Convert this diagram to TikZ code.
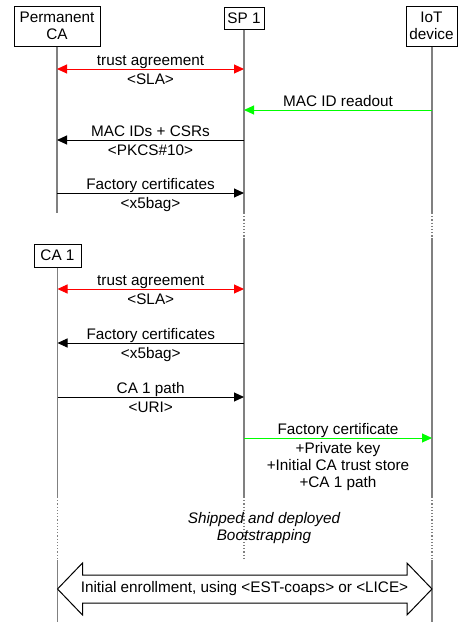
\documentclass[tikz,border=0pt]{standalone}
\usepackage{fontspec}
\setmainfont{Liberation Sans}
\usetikzlibrary{arrows.meta,calc}

\begin{document}
\begin{tikzpicture}[x=1pt,y=-1pt,font=\fontsize{15.3}{17}\selectfont,
 >={Triangle[length=10pt,width=9pt]}]
 \tikzstyle{actor}=[draw, line width=1pt, align=center, inner sep=0pt, fill=white]
 \tikzstyle{life}=[draw=gray, line width=1.5pt]
 \tikzstyle{gap}=[draw=gray, line width=1.2pt, dotted]
 \tikzstyle{msg}=[line width=1pt]
 \tikzstyle{lbl}=[anchor=base, yshift=4pt, inner sep=0pt, text=black]
 \tikzstyle{sub}=[anchor=base, yshift=-15pt, inner sep=0pt, text=black]
 \useasboundingbox (0,0) rectangle (458,622);

 \node[actor, minimum width=86, minimum height=40] (pca) at (57,26) {Permanent\\CA};
 \node[actor, minimum width=40, minimum height=22] (sp1) at (244,18) {SP 1};
 \node[actor, minimum width=51, minimum height=40] (iot) at (431.5,26) {IoT\\device};
 \node[actor, minimum width=47, minimum height=23] (ca1) at (57.5,255.5) {CA 1};

 \coordinate (cut1) at (0,213);
 \coordinate (cut2) at (0,238);
 \coordinate (cut3) at (0,497);
 \coordinate (cut4) at (0,560);
 \coordinate (foot) at (0,622);

 \draw[life] (pca.south) -- (pca.south |- cut1);
 \draw[life] (sp1.south) -- (sp1 |- cut1);
 \draw[gap] (sp1 |- cut1) -- (sp1 |- cut2);
 \draw[life] (sp1 |- cut2) -- (sp1 |- cut3);
 \draw[gap] (sp1 |- cut3) -- (sp1 |- cut4);
 \draw[life] ($(iot.south)+(0.5,0)$) -- ($(iot |- cut1)+(0.5,0)$);
 \draw[gap] ($(iot |- cut1)+(0.5,0)$) -- ($(iot |- cut2)+(0.5,0)$);
 \draw[life] ($(iot |- cut2)+(0.5,0)$) -- ($(iot |- cut3)+(0.5,0)$);
 \draw[gap] ($(iot |- cut3)+(0.5,0)$) -- ($(iot |- cut4)+(0.5,0)$);
 \draw[life] ($(iot |- cut4)+(0.5,0)$) -- ($(iot |- foot)+(0.5,0)$);
 \draw[life] (ca1.south) -- (ca1 |- cut3);
 \draw[gap] (ca1 |- cut3) -- (ca1 |- cut4);
 \draw[life] (ca1 |- cut4) -- (ca1 |- foot);

 \coordinate (m1) at (0,69);
 \coordinate (m2) at (0,110);
 \coordinate (m3) at (0,140);
 \coordinate (m4) at (0,193);
 \coordinate (m5) at (0,289);
 \coordinate (m6) at (0,343);
 \coordinate (m7) at (0,397);
 \coordinate (m8) at (0,438);
 \coordinate (ea) at (0,589);

 \draw[msg, red, <->] (pca |- m1) -- node[lbl]{trust agreement} node[sub]{<SLA>} (sp1 |- m1);
 \draw[msg, green, ->] ($(iot |- m2)+(0.5,0)$) -- node[lbl]{MAC ID readout} (sp1 |- m2);
 \draw[msg, ->] (sp1 |- m3) -- node[lbl]{MAC IDs + CSRs} node[sub]{<PKCS\#10>} (pca |- m3);
 \draw[msg, ->] (pca |- m4) -- node[lbl]{Factory certificates} node[sub]{<x5bag>} (sp1 |- m4);

 \draw[msg, red, <->] (ca1 |- m5) -- node[lbl]{trust agreement} node[sub]{<SLA>} (sp1 |- m5);
 \draw[msg, ->] (sp1 |- m6) -- node[lbl]{Factory certificates} node[sub]{<x5bag>} (ca1 |- m6);
 \draw[msg, ->] (ca1 |- m7) -- node[lbl]{CA 1 path} node[sub]{<URI>} (sp1 |- m7);
 \draw[msg, green, ->] (sp1 |- m8) -- node[lbl]{Factory certificate}
   node[anchor=north, yshift=-4pt, align=center, inner sep=0pt, text=black]{+Private key\\+Initial CA trust store\\+CA 1 path} ($(iot |- m8)+(0.5,0)$);

 \node[font=\fontsize{15.3}{17}\selectfont\itshape, align=center, inner sep=0pt] (ship) at (264,528) {Shipped and deployed\\Bootstrapping};

 \draw[line width=1pt, fill=white] (ca1 |- ea) -- ++(25,-26) -- ++(0,12) -- ($(iot |- ea)+(-24.5,-14)$) -- ++(0,-12)
   -- ($(iot |- ea)+(0.5,0)$) -- ++(-25,26) -- ++(0,-12) -- ($(ca1 |- ea)+(25,14)$) -- ++(0,12) -- cycle;
 \node (enroll) at ($(ca1 |- ea)!0.5!(iot |- ea)$) {Initial enrollment, using <EST-coaps> or <LICE>};
\end{tikzpicture}
\end{document}
